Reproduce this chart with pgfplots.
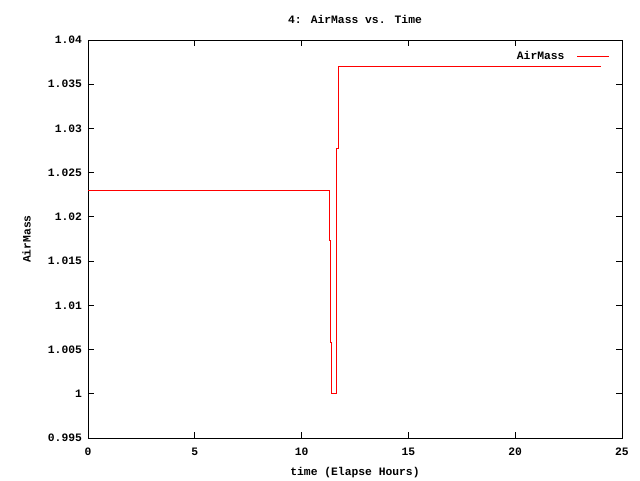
\documentclass[border=0pt]{standalone}
\usepackage{fontspec}
\setmainfont{Liberation Mono}
\usepackage{pgfplots}
\pgfplotsset{compat=1.18}
\begin{document}
\begin{tikzpicture}[x=1pt,y=1pt]
\path[use as bounding box] (0,0) rectangle (480,360);
\begin{axis}[
  at={(66pt,31.5pt)}, anchor=south west,
  scale only axis, width=400.5pt, height=298.5pt,
  xmin=0, xmax=25, ymin=0.995, ymax=1.04,
  xtick={0,5,10,15,20,25},
  ytick={0.995,1,1.005,1.01,1.015,1.02,1.025,1.03,1.035,1.04},
  yticklabels={0.995,1,1.005,1.01,1.015,1.02,1.025,1.03,1.035,1.04},
  /pgf/number format/assume math mode=true,
  tick align=inside, tick style={black, line width=0.6pt},
  major tick length=4.5pt,
  axis line style={line width=0.6pt},
  font=\fontsize{8.5}{10}\selectfont\bfseries,
  tick label style={font=\fontsize{8.5}{10}\selectfont\bfseries},
  xticklabel style={yshift=-4pt},
  yticklabel style={xshift=-1pt},
  title={4: AirMass vs. Time},
  title style={yshift=3pt},
  xlabel={time (Elapse Hours)},
  ylabel={AirMass},
  xlabel style={yshift=-2pt},
  ylabel style={yshift=6pt},
  legend style={draw=none, fill=none, at={(0.985,0.985)}, anchor=north east, font=\fontsize{8.5}{10}\selectfont\bfseries},
  legend cell align=right,
  legend plot pos=right,
  legend image code/.code={\path (0cm,0cm); \draw[#1] (0.25cm,0cm) -- (1.1cm,0cm);},
]
\addplot[const plot, red, line width=0.6pt] coordinates {
(0,1.023) (11.315,1.0173) (11.36,1.0058) (11.39,1.0) (11.61,1.0092) (11.64,1.0278) (11.72,1.037) (24,1.037)
};
\addlegendentry{AirMass}
\end{axis}
\end{tikzpicture}
\end{document}
